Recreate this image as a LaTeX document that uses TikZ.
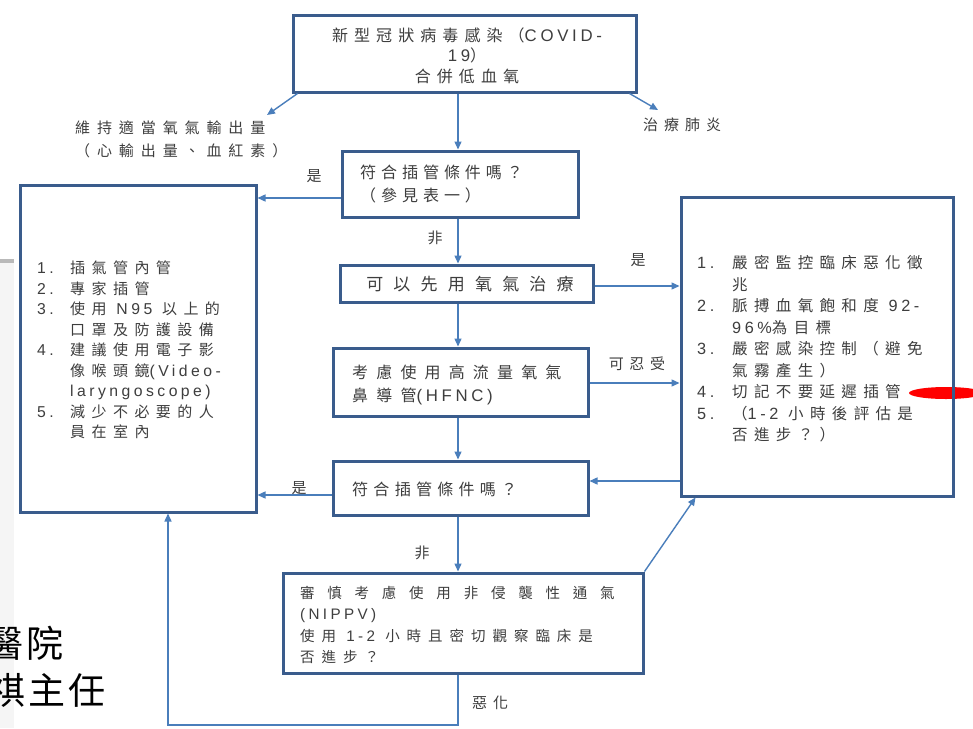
\documentclass[tikz,border=0pt]{standalone}
\usepackage{fontspec}
\setmainfont{Noto Sans CJK TC}
\newfontfamily\lat[Scale=1.05,LetterSpace=22]{Liberation Sans}
\usetikzlibrary{arrows.meta}
\definecolor{boxc}{RGB}{58,92,140}
\definecolor{arrc}{RGB}{74,126,187}
\definecolor{txtc}{RGB}{62,62,62}
\newcommand\la[1]{{\lat #1}}
\newcommand\cjksz[3]{\fontsize{#1}{#2}\selectfont\addfontfeature{LetterSpace=#3}}
\newcommand\numA[1]{\makebox[33pt][l]{\la{#1}}}
\newcommand\numB[1]{\makebox[35pt][l]{\la{#1}}}
\tikzset{
  box/.style={draw=boxc, line width=3pt, inner sep=0pt},
  arr/.style={draw=arrc, line width=1.4pt, -{Triangle[length=8pt,width=7pt]}},
  txt/.style={text=txtc, inner sep=0pt, align=left},
  lbl/.style={text=txtc, inner sep=0pt, font=\cjksz{15}{18}{30}},
}
\begin{document}
\begin{tikzpicture}[x=1pt,y=-1pt]
\useasboundingbox (0,0) rectangle (973,728);
\fill[white] (0,0) rectangle (973,728);
% slide background remnants
\fill[gray!8] (0,262) rectangle (14,728);
\fill[gray!55] (0,259) rectangle (14,263);
\begin{scope}
\clip (0,0) rectangle (973,728);
\node[anchor=west, inner sep=0pt, font=\cjksz{37}{40}{8}] (slidea) at (-14,643) {醫院};
\node[anchor=west, inner sep=0pt, font=\cjksz{37}{40}{8}] (slideb) at (-12,690) {祺主任};
\fill[red] (946,393) ellipse [x radius=37pt, y radius=6pt];
\end{scope}

% boxes
\node[box, minimum width=343pt, minimum height=77pt] (top) at (464.5,53.5) {};
\node[box, minimum width=236pt, minimum height=66pt] (b2) at (460,184) {};
\node[box, minimum width=253pt, minimum height=37pt] (b3) at (466.5,283.5) {};
\node[box, minimum width=255pt, minimum height=68pt] (b4) at (460.5,382) {};
\node[box, minimum width=255pt, minimum height=54pt] (b5) at (460.5,488) {};
\node[box, minimum width=360pt, minimum height=100pt] (b6) at (463,623) {};
\node[box, minimum width=236pt, minimum height=327pt] (left) at (138,348.5) {};
\node[box, minimum width=272pt, minimum height=299pt] (right) at (817,346.5) {};

% box texts
\node[txt, align=center, font=\cjksz{16}{20.5}{38}] (toptxt) at (467,55.5)
  {新型冠狀病毒感染（\la{COVID-}\\\la{19}）\\合併低血氧};
\node[txt, anchor=west, font=\cjksz{16}{23}{31}] (b2txt) at (360,183.5)
  {符合插管條件嗎？\\（參見表一）};
\node[txt, font=\cjksz{17}{20}{60}] (b3txt) at (470,284) {可以先用氧氣治療};
\node[txt, anchor=west, font=\cjksz{16}{23}{51}] (b4txt) at (352,384.5)
  {考慮使用高流量氧氣\\鼻導管\la{(HFNC)}};
\node[txt, anchor=west, font=\cjksz{16}{20}{33}] (b5txt) at (352,489) {符合插管條件嗎？};
\node[txt, anchor=west, font=\cjksz{14.5}{21.3}{48}] (b6txt) at (300,625)
  {{\addfontfeature{LetterSpace=88}審慎考慮使用非侵襲性通氣}\\\la{(NIPPV)}\\使用 \la{1-2} 小時且密切觀察臨床是\\否進步？};
\node[txt, anchor=west, font=\cjksz{15}{20.5}{43}] (lefttxt) at (37,350)
  {\numA{1.}插氣管內管\\
   \numA{2.}專家插管\\
   \numA{3.}使用 \la{N95} 以上的\\
   \hspace*{33pt}口罩及防護設備\\
   \numA{4.}建議使用電子影\\
   \hspace*{33pt}像喉頭鏡\la{(Video-}\\
   \hspace*{33pt}\la{laryngoscope)}\\
   \numA{5.}減少不必要的人\\
   \hspace*{33pt}員在室內};
\node[txt, anchor=west, font=\cjksz{15.5}{21.5}{41}] (righttxt) at (697,349)
  {\numB{1.}嚴密監控臨床惡化徵\\
   \hspace*{35pt}兆\\
   \numB{2.}脈搏血氧飽和度 \la{92-}\\
   \hspace*{35pt}\la{96\%}為目標\\
   \numB{3.}嚴密感染控制（避免\\
   \hspace*{35pt}氣霧產生）\\
   \numB{4.}切記不要延遲插管\\
   \numB{5.}（\la{1-2} 小時後評估是\\
   \hspace*{35pt}否進步？）};

% free labels
\node[txt, anchor=west, font=\cjksz{15}{22.5}{46}] (maint) at (75,139.5)
  {維持適當氧氣輸出量\\（心輸出量、血紅素）};
\node[txt, anchor=west, font=\cjksz{15}{18}{40}] (pneu) at (643,125) {治療肺炎};

% helper coordinates
\coordinate (xa) at (458,0);
\coordinate (xl) at (168,0);
\coordinate (ya) at (0,198);
\coordinate (yb) at (0,286);
\coordinate (yc) at (0,383);
\coordinate (yd) at (0,481);
\coordinate (ye) at (0,495);
\coordinate (lowy) at (0,725);
\coordinate (maintarr) at (267,115);
\coordinate (pneuarr) at (658,110);

% connectors
\draw[arr] (top.south -| xa) -- (b2.north -| xa);
\draw[arr] ([xshift=6pt]top.south west) -- (maintarr);
\draw[arr] ([xshift=-8pt]top.south east) -- (pneuarr);
\draw[arr] (b2.west |- ya) -- (left.east |- ya);
\draw[arr] (b2.south -| xa) -- (b3.north -| xa);
\draw[arr] (b3.east |- yb) -- (right.west |- yb);
\draw[arr] (b3.south -| xa) -- (b4.north -| xa);
\draw[arr] (b4.east |- yc) -- (right.west |- yc);
\draw[arr] (b4.south -| xa) -- (b5.north -| xa);
\draw[arr] (right.west |- yd) -- (b5.east |- yd);
\draw[arr] (b5.west |- ye) -- (left.east |- ye);
\draw[arr] (b5.south -| xa) -- (b6.north -| xa);
\draw[arr] (b6.north east) -- ([xshift=16pt]right.south west);
\draw[arr] (b6.south -| xa) -- (xa |- lowy) -- (xl |- lowy) -- (left.south -| xl);

% connector labels
\node[lbl] (l1) at (314,176) {是};
\node[lbl] (l2) at (435,238) {非};
\node[lbl] (l3) at (638,260) {是};
\node[lbl, font=\cjksz{15}{18}{38}] (l4) at (637,364) {可忍受};
\node[lbl] (l5) at (299,488) {是};
\node[lbl] (l6) at (422,553) {非};
\node[lbl, font=\cjksz{15}{18}{40}] (l7) at (490,703) {惡化};
\end{tikzpicture}
\end{document}
